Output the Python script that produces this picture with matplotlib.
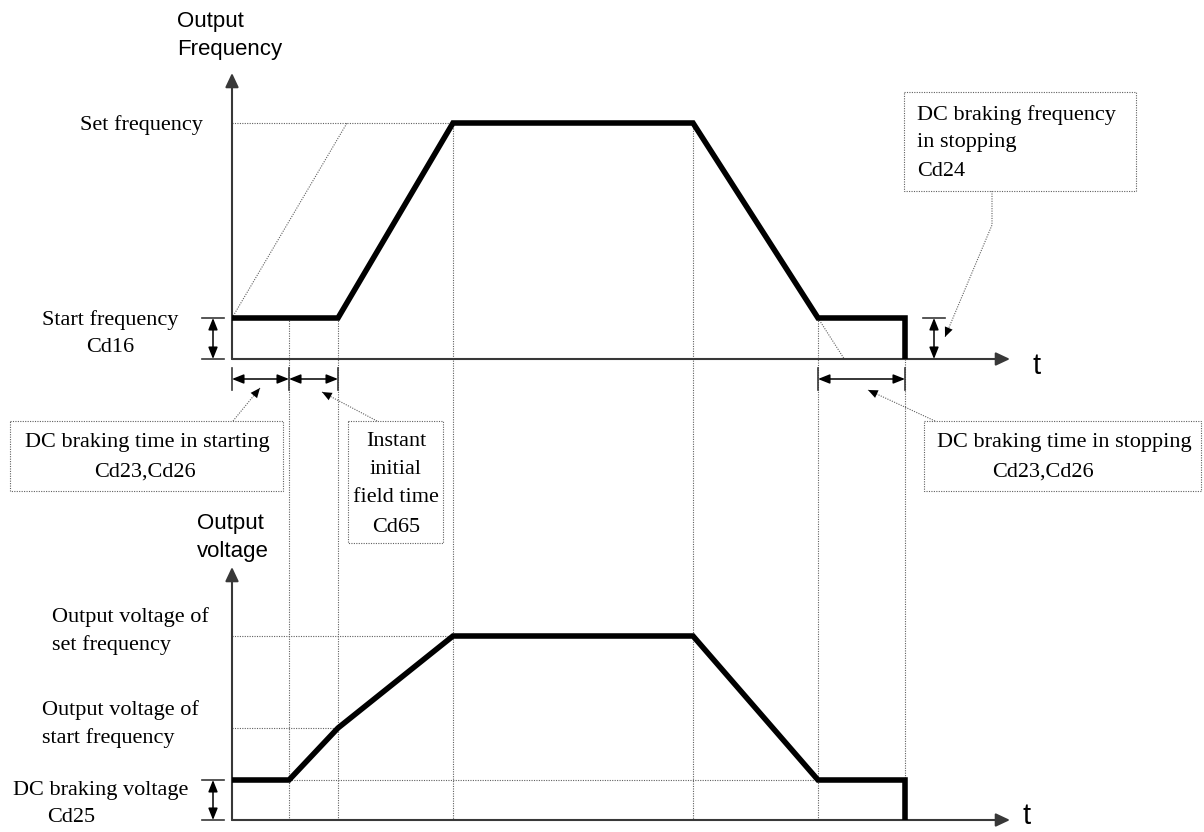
import matplotlib.pyplot as plt
from matplotlib.patches import Rectangle

# ---- values (time and level units ~ picture pixels) ----
t_start = 0
t_dc_start = 57      # end of DC braking in starting
t_field = 106        # end of instant initial field time
t_acc_end = 221      # set frequency reached
t_dec_start = 461
t_dec_end = 586      # DC braking frequency reached
t_stop = 673
t_ref = 115          # dotted reference ramp reaches set frequency
t_axis_end = 778

f_start = 41
f_set = 236
freq_top = 286
freq_t = [t_start, t_field, t_acc_end, t_dec_start, t_dec_end, t_stop, t_stop]
freq_y = [f_start, f_start, f_set, f_set, f_start, f_start, 0]

v_dc = 40
v_start = 92
v_set = 184
volt_top = 253
volt_t = [t_start, t_dc_start, t_field, t_acc_end, t_dec_start, t_dec_end, t_stop, t_stop]
volt_y = [v_dc, v_dc, v_start, v_set, v_set, v_dc, v_dc, 0]

# ---- layout ----
W, H = 1204, 832
ORIGIN_F = (232, 359)
ORIGIN_V = (232, 820)
SERIF = 'Liberation Serif'
SANS = 'Liberation Sans'
FS = 16
DOT = (0, (1, 1.2))
GUIDE = '#606060'
AXC = '#383838'

fig = plt.figure(figsize=(W / 100, H / 100), dpi=100)
fig.patch.set_facecolor('white')


def panel(origin):
    ax = fig.add_axes([0, 0, 1, 1])
    ax.set_xlim(-origin[0], W - origin[0])
    ax.set_ylim(origin[1] - H, origin[1])
    ax.axis('off')
    return ax


canvas = fig.add_axes([0, 0, 1, 1])
canvas.set_xlim(0, W)
canvas.set_ylim(H, 0)
canvas.axis('off')
axf = panel(ORIGIN_F)
axv = panel(ORIGIN_V)

# lower panel's zero expressed in the upper panel's units
low0 = ORIGIN_F[1] - ORIGIN_V[1]


def guide(ax, xs, ys):
    ax.plot(xs, ys, color=GUIDE, lw=0.8, ls=DOT, zorder=1)


def axis_arrows(ax, top):
    kw = dict(arrowstyle='-|>,head_length=0.85,head_width=0.4', mutation_scale=10,
              lw=1.5, color=AXC, shrinkA=0, shrinkB=0)
    ax.annotate('', xy=(0, top), xytext=(0, 0), arrowprops=kw, zorder=3)
    ax.annotate('', xy=(t_axis_end, 0), xytext=(0, 0), arrowprops=kw, zorder=3)


def dbl_arrow(ax, p0, p1):
    ax.annotate('', xy=p1, xytext=p0,
                arrowprops=dict(arrowstyle='<|-|>,head_length=0.7,head_width=0.28',
                                mutation_scale=10, lw=1.1, color='black',
                                shrinkA=0, shrinkB=0), zorder=4)


def level_marker(ax, x, level):
    dbl_arrow(ax, (x, 0), (x, level))
    for yy in (0, level):
        ax.plot([x - 11, x + 11], [yy, yy], color=AXC, lw=1.2, zorder=3)


# ---- upper panel: output frequency ----
guide(axf, [t_start, t_acc_end], [f_set, f_set])
guide(axf, [t_start, t_ref], [f_start, f_set])
t_ext = t_dec_end + (t_dec_end - t_dec_start) * f_start / (f_set - f_start)
guide(axf, [t_dec_end, t_ext], [f_start, 0])
for t, lv in [(t_dc_start, f_start), (t_field, f_start), (t_acc_end, f_set),
              (t_dec_start, f_set), (t_dec_end, f_start)]:
    guide(axf, [t, t], [lv, low0])
guide(axf, [t_stop, t_stop], [0, low0 + v_dc])

axis_arrows(axf, freq_top)
axf.plot(freq_t, freq_y, color='black', lw=4, solid_joinstyle='miter',
         solid_capstyle='butt', zorder=5)
level_marker(axf, -19, f_start)
level_marker(axf, 702, f_start)

for a, b in [(t_start, t_dc_start), (t_dc_start, t_field), (t_dec_end, t_stop)]:
    dbl_arrow(axf, (a, -20), (b, -20))
for t in [t_start, t_dc_start, t_field, t_dec_end, t_stop]:
    axf.plot([t, t], [-9, -31], color=AXC, lw=1.2, zorder=3)

# ---- lower panel: output voltage ----
guide(axv, [t_start, t_acc_end], [v_set, v_set])
guide(axv, [t_start, t_field], [v_start, v_start])
guide(axv, [t_dc_start, t_dec_end], [v_dc, v_dc])
axis_arrows(axv, volt_top)
axv.plot(volt_t, volt_y, color='black', lw=4, solid_joinstyle='miter',
         solid_capstyle='butt', zorder=5)
level_marker(axv, -19, v_dc)

# ---- text ----
def txt(x, y, s, ha='left', family=SERIF, size=FS):
    canvas.text(x, y, s, ha=ha, va='center', fontfamily=family, fontsize=size, zorder=6)


txt(177, 22, 'Output', family=SANS)
txt(177, 50, 'Frequency', family=SANS)
txt(1037, 366, 't', ha='center', family=SANS, size=21)
txt(1027, 816, 't', ha='center', family=SANS, size=21)
txt(203, 125, 'Set frequency', ha='right')
txt(110, 320, 'Start frequency', ha='center')
txt(110, 348, 'Cd16', ha='center')
txt(197, 524, 'Output', family=SANS)
txt(197, 551, 'voltage', family=SANS)
txt(52, 617, 'Output voltage of')
txt(52, 645, 'set frequency')
txt(42, 710, 'Output voltage of')
txt(42, 738, 'start frequency')
txt(13, 790, 'DC braking voltage')
txt(47, 818, 'Cd25')

# callout boxes
boxes = [(10, 421, 283, 491), (348, 421, 443, 543), (924, 421, 1201, 491), (904, 92, 1136, 191)]
for x0, y0, x1, y1 in boxes:
    canvas.add_patch(Rectangle((x0, y0), x1 - x0, y1 - y0, fill=False, ec=GUIDE,
                               lw=0.8, ls=DOT, zorder=2))

txt(147, 443, 'DC braking time in starting', ha='center')
txt(145, 472, 'Cd23,Cd26', ha='center')
for yy, s in zip([442, 470, 498, 527], ['Instant', 'initial', 'field time', 'Cd65']):
    txt(396, yy, s, ha='center')
txt(1064, 443, 'DC braking time in stopping', ha='center')
txt(1043, 472, 'Cd23,Cd26', ha='center')
for yy, s in zip([115, 143, 171], ['DC braking frequency', 'in stopping', 'Cd24']):
    txt(917, yy, s)


def leader(pts):
    xs = [p[0] for p in pts]
    ys = [p[1] for p in pts]
    canvas.plot(xs, ys, color=GUIDE, lw=0.8, ls=DOT, zorder=2)
    (x0, y0), (x1, y1) = pts[-2], pts[-1]
    canvas.annotate('', xy=(x1, y1), xytext=(x0, y0),
                    arrowprops=dict(arrowstyle='-|>,head_length=0.7,head_width=0.3',
                                    mutation_scale=10, lw=0, color='black',
                                    shrinkA=0, shrinkB=0), zorder=4)


leader([(233, 421), (260, 388)])
leader([(377, 421), (322, 392)])
leader([(935, 421), (868, 390)])
leader([(992, 191), (992, 225), (945, 337)])

fig.savefig('out.png', dpi=100, facecolor='white')
